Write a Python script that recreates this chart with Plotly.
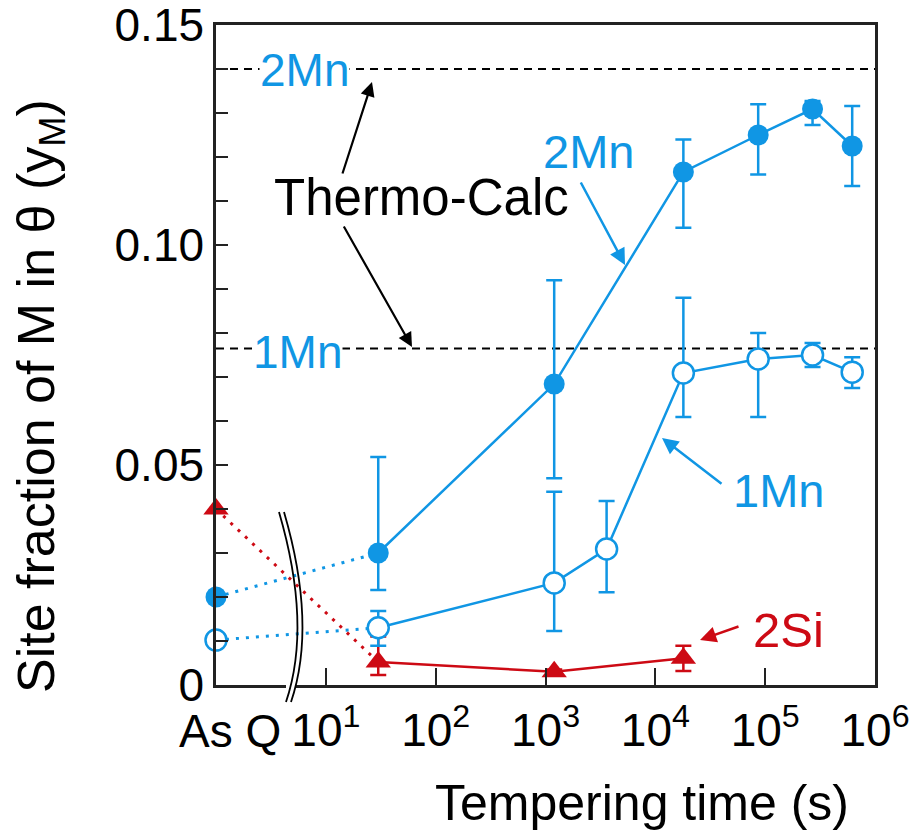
import plotly.graph_objects as go

# ---------------- data ----------------
asq_time = 1  # "As Q" drawn at 10^0 (left axis)

t_2mn = [30, 1200, 18000, 86400, 270000, 620000]
y_2mn = [0.030, 0.0684, 0.1166, 0.125, 0.1309, 0.1225]
hi_2mn = [0.0518, 0.092, 0.124, 0.132, 0.1327, 0.1316]
lo_2mn = [0.0216, 0.047, 0.1039, 0.116, 0.1273, 0.1134]
asq_2mn = 0.020

t_1mn = [30, 1200, 3600, 18000, 86400, 270000, 620000]
y_1mn = [0.013, 0.0232, 0.0309, 0.0709, 0.0741, 0.075, 0.0711]
hi_1mn = [0.0168, 0.0439, 0.0418, 0.088, 0.080, 0.0777, 0.0745]
lo_1mn = [0.0089, 0.0123, 0.0211, 0.0609, 0.0609, 0.0723, 0.0675]
asq_1mn = 0.0102

t_2si = [30, 1200, 18000]
y_2si = [0.0052, 0.003, 0.0061]
hi_2si = [0.011, 0.0035, 0.0089]
lo_2si = [0.0023, 0.0025, 0.0032]
asq_2si = 0.040

tc_2mn = 0.140   # Thermo-Calc equilibrium values
tc_1mn = 0.0765

x_tickvals = [1, 10, 100, 1000, 10000, 100000, 1000000]
x_ticktext = ["", "10<sup>1</sup>", "10<sup>2</sup>", "10<sup>3</sup>",
              "10<sup>4</sup>", "10<sup>5</sup>", "10<sup>6</sup>"]
y_tickvals = [0, 0.05, 0.10, 0.15]
y_ticktext = ["0", "0.05", "0.10", "0.15"]

BLUE = "rgb(16,150,228)"
RED = "rgb(205,10,20)"
FONT = "Arial, Liberation Sans, sans-serif"

def err(y, hi, lo):
    return dict(type="data", symmetric=False,
                array=[h - v for h, v in zip(hi, y)],
                arrayminus=[v - l for v, l in zip(y, lo)])

fig = go.Figure()

# dotted connections from As Q
for yq, t0, y0, col in [(asq_2mn, t_2mn[0], y_2mn[0], BLUE),
                        (asq_1mn, t_1mn[0], y_1mn[0], BLUE),
                        (asq_2si, t_2si[0], y_2si[0], RED)]:
    fig.add_trace(go.Scatter(x=[asq_time, t0], y=[yq, y0], mode="lines",
                             line=dict(color=col, width=3, dash="3px,7px"),
                             cliponaxis=False, showlegend=False))

# 2Si
fig.add_trace(go.Scatter(x=t_2si, y=y_2si, mode="lines+markers",
                         line=dict(color=RED, width=2.5),
                         marker=dict(symbol="triangle-up", size=22, color=RED),
                         error_y=dict(**err(y_2si, hi_2si, lo_2si), color=RED,
                                      thickness=2.5, width=8),
                         cliponaxis=False, showlegend=False))
# 1Mn
fig.add_trace(go.Scatter(x=t_1mn, y=y_1mn, mode="lines+markers",
                         line=dict(color=BLUE, width=2.5),
                         marker=dict(symbol="circle", size=21, color="white",
                                     line=dict(color=BLUE, width=2.5)),
                         error_y=dict(**err(y_1mn, hi_1mn, lo_1mn), color=BLUE,
                                      thickness=2.5, width=8),
                         cliponaxis=False, showlegend=False))
# 2Mn
fig.add_trace(go.Scatter(x=t_2mn, y=y_2mn, mode="lines+markers",
                         line=dict(color=BLUE, width=2.5),
                         marker=dict(symbol="circle", size=21, color=BLUE),
                         error_y=dict(**err(y_2mn, hi_2mn, lo_2mn), color=BLUE,
                                      thickness=2.5, width=8),
                         cliponaxis=False, showlegend=False))
# As Q points
fig.add_trace(go.Scatter(x=[asq_time], y=[asq_2si], mode="markers",
                         marker=dict(symbol="triangle-up", size=22, color=RED),
                         cliponaxis=False, showlegend=False))
fig.add_trace(go.Scatter(x=[asq_time], y=[asq_1mn], mode="markers",
                         marker=dict(symbol="circle", size=21, color="white",
                                     line=dict(color=BLUE, width=2.5)),
                         cliponaxis=False, showlegend=False))
fig.add_trace(go.Scatter(x=[asq_time], y=[asq_2mn], mode="markers",
                         marker=dict(symbol="circle", size=21, color=BLUE),
                         cliponaxis=False, showlegend=False))

# Thermo-Calc dashed lines
for yv in (tc_2mn, tc_1mn):
    fig.add_shape(type="line", xref="paper", x0=0, x1=1, yref="y", y0=yv, y1=yv,
                  line=dict(color="black", width=2, dash="8px,6px"), layer="below")

# plot geometry helpers (pixel -> paper) for decorations
L, R, T, B = 216, 875, 25, 685
def px(x):
    return (x - L) / (R - L)
def py(y):
    return (B - y) / (B - T)

# axis break symbol
fig.add_shape(type="rect", xref="paper", yref="paper",
              x0=px(286), x1=px(295), y0=py(690), y1=py(680),
              fillcolor="white", line=dict(width=0), layer="above")
for dx in (0, 5):
    path = "M {:.4f},{:.4f} Q {:.4f},{:.4f} {:.4f},{:.4f}".format(
        px(279 + dx), py(512), px(312 + dx), py(625), px(286 + dx), py(702))
    fig.add_shape(type="path", xref="paper", yref="paper", path=path,
                  line=dict(color="black", width=1.8), layer="above")

def label(x, y, text, size, color, **kw):
    d = dict(xref="paper", yref="paper", x=px(x), y=py(y), text=text,
             showarrow=False, xanchor="center", yanchor="middle",
             font=dict(size=size, color=color, family=FONT))
    d.update(kw)
    return d

def arrow(x, y, ax, ay, color, w):
    return dict(xref="paper", yref="paper", x=px(x), y=py(y), ax=ax, ay=ay,
                text="", showarrow=True, arrowhead=2, arrowsize=1.3,
                arrowwidth=w, arrowcolor=color)

ann = [
    label(304, 70, "2Mn", 46, BLUE, bgcolor="white", borderpad=0),
    label(297, 352, "1Mn", 46, BLUE, bgcolor="white", borderpad=0),
    label(421, 197, "Thermo-Calc", 51, "black"),
    arrow(372, 82, -30, 93, "black", 2.2),
    arrow(412, 347, -69, -122, "black", 2.2),
    label(588, 151, "2Mn", 47, BLUE),
    arrow(625, 265, -45, -84, BLUE, 2.5),
    label(778, 490, "1Mn", 47, BLUE),
    arrow(662, 438, 61, 47, BLUE, 2.5),
    label(788, 630, "2Si", 49, RED),
    arrow(700, 640, 40, -14, RED, 2.5),
    label(230, 731, "As Q", 46, "black"),
    label(642, 803, "Tempering time (s)", 50, "black"),
    label(40, 396, "Site fraction of M in θ (y<sub>M</sub>)", 52, "black",
          textangle=-90),
]

fig.update_layout(
    width=914, height=834,
    margin=dict(l=L, r=914 - R, t=T, b=834 - B, autoexpand=False),
    paper_bgcolor="white", plot_bgcolor="white",
    font=dict(family=FONT, color="black"),
    showlegend=False,
    annotations=ann,
    xaxis=dict(type="log", range=[0, 6], tickvals=x_tickvals, ticktext=x_ticktext,
               ticks="inside", ticklen=17, tickwidth=2, tickcolor="#222",
               showline=True, linecolor="#222", linewidth=2.5, mirror=True,
               showgrid=False, zeroline=False, ticklabelstandoff=3,
               ticklabeloverflow="allow", automargin=False,
               tickfont=dict(size=46, color="black", family=FONT)),
    yaxis=dict(range=[0, 0.15], tickvals=y_tickvals, ticktext=y_ticktext,
               ticks="inside", ticklen=12, tickwidth=2, tickcolor="#222",
               minor=dict(dtick=0.01, ticks="inside", ticklen=12, tickwidth=2,
                          tickcolor="#222", showgrid=False),
               showline=True, linecolor="#222", linewidth=2.5, mirror=True,
               showgrid=False, zeroline=False, ticklabeloverflow="allow",
               automargin=False,
               tickfont=dict(size=46, color="black", family=FONT)),
)

fig.write_html("out.html")
